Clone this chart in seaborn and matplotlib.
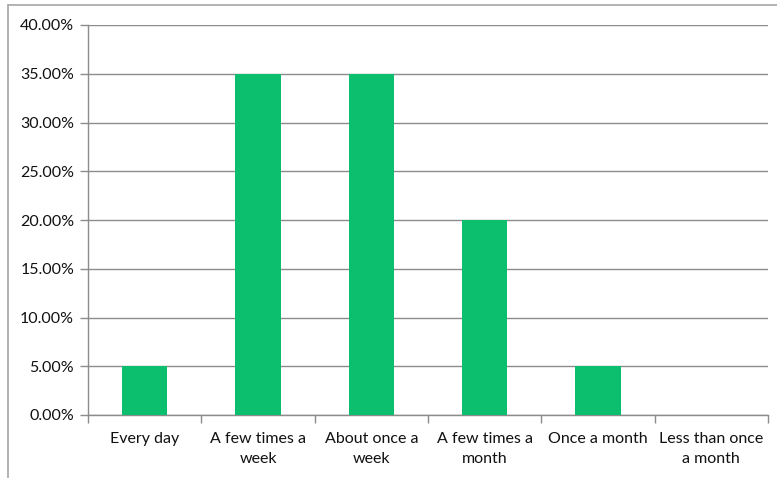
import matplotlib
matplotlib.use("Agg")
import matplotlib.pyplot as plt
from matplotlib.ticker import PercentFormatter, FixedLocator
import seaborn as sns
import pandas as pd

categories = ["Every day", "A few times a\nweek", "About once a\nweek",
              "A few times a\nmonth", "Once a month", "Less than once\na month"]
shares = [0.05, 0.35, 0.35, 0.20, 0.05, 0.0]
y_ticks = [0.0, 0.05, 0.10, 0.15, 0.20, 0.25, 0.30, 0.35, 0.40]

df = pd.DataFrame({"freq": categories, "share": shares})

sns.set_theme(style="white")
plt.rcParams["font.family"] = ["Lato", "DejaVu Sans"]

fig = plt.figure(figsize=(7.77, 4.78), dpi=100)
W, H = 777, 478
ax = fig.add_axes([88 / W, 1 - 415 / H, (768 - 88) / W, (415 - 25) / H])

sns.barplot(data=df, x="freq", y="share", color="#0BBF6F", saturation=1,
            width=0.4, linewidth=0, ax=ax, zorder=3)

ax.set_xlim(-0.5, len(categories) - 0.5)
ax.set_ylim(0, 0.40)
ax.yaxis.set_major_locator(FixedLocator(y_ticks))
ax.yaxis.set_major_formatter(PercentFormatter(1.0, decimals=2))
ax.grid(axis="y", color="#8c8c8c", linewidth=1.0, zorder=0)
ax.set_axisbelow(True)
ax.set_xlabel("")
ax.set_ylabel("")

for side in ["top", "right"]:
    ax.spines[side].set_visible(False)
for side in ["left", "bottom"]:
    ax.spines[side].set_color("#8c8c8c")
    ax.spines[side].set_linewidth(1.0)

# category tick marks sit between the bars
ax.set_xticks(range(len(categories)))
ax.set_xticklabels(categories, fontsize=11.5, color="#111111", linespacing=1.55)
ax.tick_params(axis="x", length=0, pad=12)
ax.set_xticks([i - 0.5 for i in range(len(categories) + 1)], minor=True)
ax.tick_params(axis="x", which="minor", length=6, width=1.0, color="#8c8c8c",
               direction="out", bottom=True)
ax.tick_params(axis="y", length=6, width=1.0, color="#8c8c8c", left=True,
               labelsize=11.5, labelcolor="#111111", pad=4)

# outer chart-area frame
fig.add_artist(plt.Line2D([8 / W, 8 / W], [0, 1 - 5 / H], transform=fig.transFigure,
                          color="#a6a6a6", linewidth=1.2))
fig.add_artist(plt.Line2D([8 / W, 1], [1 - 5 / H, 1 - 5 / H], transform=fig.transFigure,
                          color="#a6a6a6", linewidth=1.2))

fig.savefig("out.png", dpi=100)
